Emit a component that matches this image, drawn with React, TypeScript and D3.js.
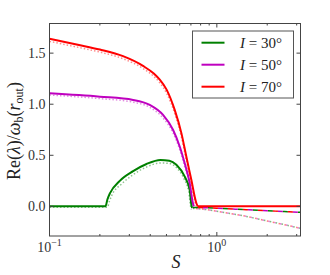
import * as d3 from 'd3'

// S grid and Re(lambda) values
const S_RED = [0.1, 0.15, 0.2, 0.275, 0.362, 0.42, 0.456, 0.5, 0.56, 0.614, 0.657, 0.704, 0.754, 0.772, 3.162]
const RE_RED = [1.64, 1.58, 1.535, 1.47, 1.375, 1.3, 1.24, 1.145, 0.944, 0.717, 0.488, 0.26, 0.033, 0, 0]
const S_RED_DOT = [0.1, 0.15, 0.2, 0.275, 0.362, 0.42, 0.456, 0.5, 0.56, 0.614, 0.657, 0.704, 0.75, 0.765]
const RE_RED_DOT = [1.615, 1.555, 1.51, 1.445, 1.35, 1.272, 1.21, 1.11, 0.91, 0.68, 0.45, 0.22, 0.01, -0.018]

const S_MAG = [0.1, 0.2, 0.316, 0.397, 0.477, 0.547, 0.6, 0.642, 0.688, 0.719, 0.729]
const RE_MAG = [1.107, 1.074, 1.042, 0.993, 0.895, 0.75, 0.586, 0.424, 0.23, 0.033, 0]
const S_MAG_DOT = [0.1, 0.2, 0.316, 0.397, 0.477, 0.547, 0.6, 0.642, 0.688, 0.712, 0.722]
const RE_MAG_DOT = [1.09, 1.055, 1.02, 0.97, 0.865, 0.72, 0.555, 0.39, 0.2, 0.01, -0.02]

const S_GRN = [0.1, 0.216, 0.222, 0.23, 0.263, 0.316, 0.38, 0.46, 0.52, 0.573, 0.642, 0.688, 0.704, 0.712]
const RE_GRN = [0, 0, 0.07, 0.13, 0.25, 0.345, 0.415, 0.455, 0.447, 0.407, 0.293, 0.163, 0.017, -0.015]
const S_GRN_DOT = [0.1, 0.222, 0.228, 0.236, 0.27, 0.316, 0.38, 0.46, 0.52, 0.573, 0.636, 0.68, 0.697, 0.705]
const RE_GRN_DOT = [-0.008, -0.008, 0.05, 0.11, 0.22, 0.31, 0.385, 0.425, 0.42, 0.38, 0.27, 0.14, 0, -0.03]

// branches past the cutoff
const S_TAIL = [0.72, 0.8, 1.0, 1.5, 2.0, 2.5, 3.162]
const RE_DASH = [-0.01, -0.012, -0.018, -0.033, -0.043, -0.05, -0.058]
const RE_DOT_TAIL = [-0.02, -0.025, -0.048, -0.098, -0.143, -0.177, -0.215]

const LEGEND = ['30', '50', '70']
const COLORS = ['#008000', '#bf00bf', '#ff0000']
const Y_TICKS = [0, 0.5, 1.0, 1.5]
const X_MAJOR = [0.1, 1]
const X_MINOR = [0.2, 0.3, 0.4, 0.5, 0.6, 0.7, 0.8, 0.9, 2, 3]

const W = 330
const H = 275
const M = { left: 49.5, right: 300.5, top: 23.5, bottom: 236 }
const FONT = '"Liberation Serif", "DejaVu Serif", serif'

const zip = (s: number[], v: number[]) => s.map((x, i) => [x, v[i]] as [number, number])

export default function App() {
  const x = d3.scaleLog().domain([0.1, 3.162]).range([M.left, M.right])
  const y = d3.scaleLinear().domain([-0.29, 1.79]).range([M.bottom, M.top])
  const line = d3
    .line<[number, number]>()
    .x((d) => x(d[0]))
    .y((d) => y(d[1]))
    .curve(d3.curveMonotoneX)

  const solid = [zip(S_GRN, RE_GRN), zip(S_MAG, RE_MAG), zip(S_RED, RE_RED)]
  const dotted = [zip(S_GRN_DOT, RE_GRN_DOT), zip(S_MAG_DOT, RE_MAG_DOT), zip(S_RED_DOT, RE_RED_DOT)]
  const dash = zip(S_TAIL, RE_DASH)
  const dotTail = zip(S_TAIL, RE_DOT_TAIL)

  return (
    <svg width={W} height={H} style={{ position: 'absolute', left: 0, top: 0, background: '#fff' }}>
      <defs>
        <clipPath id="plot">
          <rect x={M.left} y={M.top} width={M.right - M.left} height={M.bottom - M.top} />
        </clipPath>
      </defs>

      <g clipPath="url(#plot)" fill="none">
        {dotted.map((d, i) => (
          <path key={'dt' + i} d={line(d) ?? ''} stroke={COLORS[i]} strokeOpacity={0.45} strokeWidth={1.5} strokeDasharray="1.5 2" />
        ))}
        {COLORS.map((c, i) => (
          <path key={'dtt' + i} d={line(dotTail) ?? ''} stroke={c} strokeOpacity={0.5} strokeWidth={1.5} strokeDasharray="1.5 4.5" strokeDashoffset={i * 1.5} />
        ))}
        {COLORS.map((c, i) => (
          <path key={'da' + i} d={line(dash) ?? ''} stroke={c} strokeWidth={1.5} strokeDasharray="5 10" strokeDashoffset={i * 5} />
        ))}
        {solid.map((d, i) => (
          <path key={'s' + i} d={line(d) ?? ''} stroke={COLORS[i]} strokeWidth={2} strokeLinejoin="round" />
        ))}
      </g>

      {/* frame */}
      <rect x={M.left} y={M.top} width={M.right - M.left} height={M.bottom - M.top} fill="none" stroke="#444" strokeWidth={1} />

      {/* y ticks */}
      {Y_TICKS.map((t) => (
        <g key={'y' + t}>
          <line x1={M.left} x2={M.left + 4} y1={y(t)} y2={y(t)} stroke="#444" />
          <line x1={M.right - 4} x2={M.right} y1={y(t)} y2={y(t)} stroke="#444" />
          <text x={M.left - 4} y={y(t) + 5} textAnchor="end" fontFamily={FONT} fontSize={14} fill="#333">
            {t.toFixed(1)}
          </text>
        </g>
      ))}

      {/* x ticks */}
      {X_MAJOR.map((t) => (
        <g key={'xm' + t}>
          <line x1={x(t)} x2={x(t)} y1={M.bottom} y2={M.bottom - 4} stroke="#444" />
          <line x1={x(t)} x2={x(t)} y1={M.top} y2={M.top + 4} stroke="#444" />
        </g>
      ))}
      {X_MINOR.map((t) => (
        <g key={'xn' + t}>
          <line x1={x(t)} x2={x(t)} y1={M.bottom} y2={M.bottom - 2} stroke="#444" />
          <line x1={x(t)} x2={x(t)} y1={M.top} y2={M.top + 2} stroke="#444" />
        </g>
      ))}
      {X_MAJOR.map((t) => (
        <text key={'xl' + t} x={x(t)} y={252} textAnchor="middle" fontFamily={FONT} fontSize={14} fill="#333">
          10
          <tspan dy={-6} fontSize={10}>
            {t < 1 ? '\u22121' : '0'}
          </tspan>
        </text>
      ))}

      {/* axis labels */}
      <text x={176} y={268} textAnchor="middle" fontFamily={FONT} fontSize={18} fontStyle="italic" fill="#222">
        S
      </text>
      <text transform="translate(20,131) rotate(-90)" textAnchor="middle" fontFamily={FONT} fontSize={18} fill="#222">
        Re(<tspan fontStyle="italic">λ</tspan>)/<tspan fontStyle="italic">ω</tspan>
        <tspan dy={3} fontSize={12}>b</tspan>
        <tspan dy={-3}>(</tspan>
        <tspan fontStyle="italic">r</tspan>
        <tspan dy={3} fontSize={12}>out</tspan>
        <tspan dy={-3}>)</tspan>
      </text>

      {/* legend */}
      <rect x={192.5} y={31} width={101} height={67} fill="#fff" stroke="#555" strokeWidth={1} />
      {LEGEND.map((l, i) => {
        const ly = 42.7 + i * 22
        return (
          <g key={'lg' + l}>
            <line x1={201.5} x2={224.5} y1={ly} y2={ly} stroke={COLORS[i]} strokeWidth={2} />
            <text x={240} y={ly + 5} fontFamily={FONT} fontSize={15} fill="#222">
              <tspan fontStyle="italic">I</tspan>
              {' = ' + l + '°'}
            </text>
          </g>
        )
      })}
    </svg>
  )
}
